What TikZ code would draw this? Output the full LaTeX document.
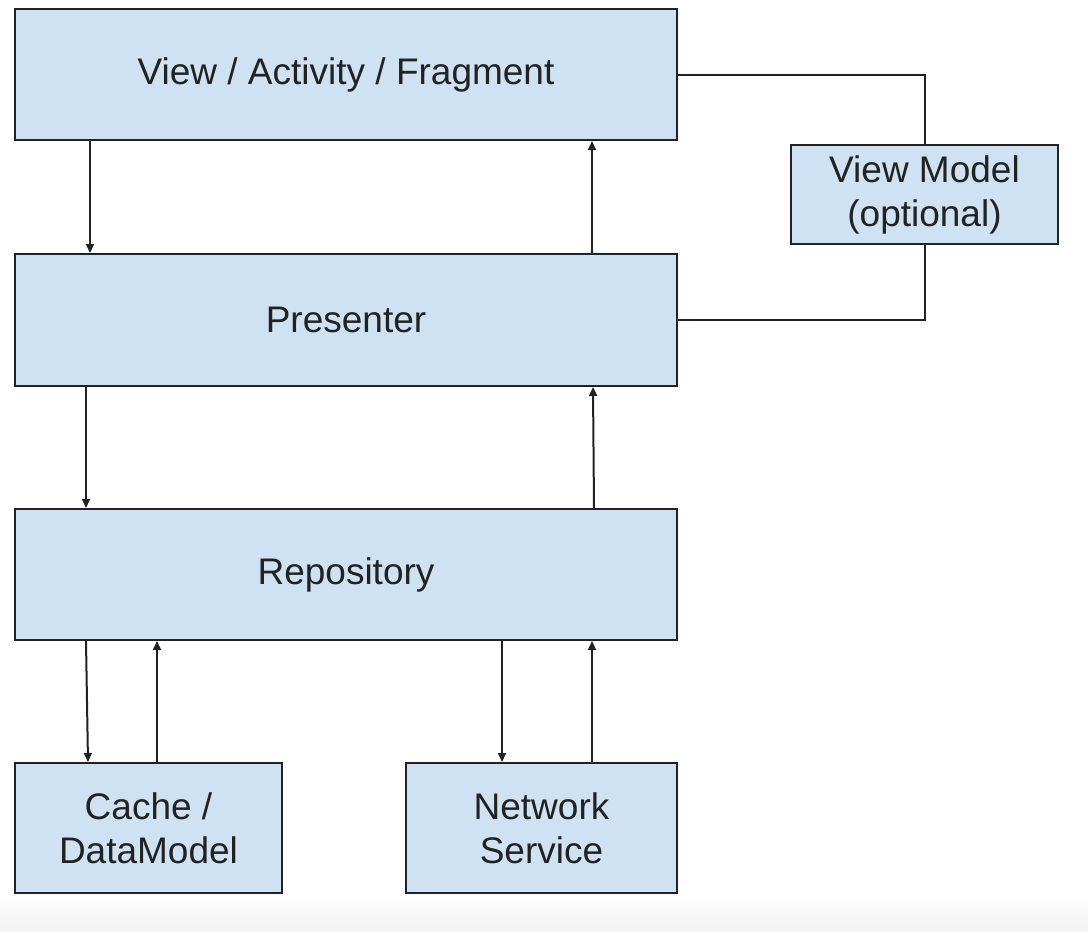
\documentclass[tikz,border=0pt]{standalone}
\usepackage{fontspec}
\setmainfont{Liberation Sans}
\usetikzlibrary{arrows.meta}
\definecolor{boxfill}{HTML}{CFE2F3}
\definecolor{ink}{HTML}{222222}
\begin{document}
\begin{tikzpicture}[x=1pt,y=-1pt,
  box/.style={draw=ink,fill=boxfill,line width=2pt,inner sep=0pt,
    font=\fontsize{37}{44}\selectfont,text=ink,align=center},
  arr/.style={draw=ink,line width=2pt,-{Triangle[length=9pt,width=8pt]}},
  link/.style={draw=ink,line width=2pt}]
\useasboundingbox (0,0) rectangle (1088,932);
\shade[top color=white,bottom color=black!5] (0,893) rectangle (1088,932);
\node[box,minimum width=662pt,minimum height=131pt] (V) at (346,74.5) {View / Activity / Fragment};
\node[box,minimum width=662pt,minimum height=132pt] (P) at (346,320) {Presenter};
\node[box,minimum width=662pt,minimum height=131pt] (R) at (346,574.5) {Repository};
\node[box,minimum width=267pt,minimum height=130pt] (C) at (148.5,828) {Cache /\\DataModel};
\node[box,minimum width=271pt,minimum height=130pt] (N) at (541.5,828) {Network\\Service};
\node[box,minimum width=267pt,minimum height=99pt] (VM) at (924.5,194.5) {View Model\\(optional)};
% arrows
\draw[arr] ([xshift=76pt]V.south west) -- ([xshift=76pt]P.north west);
\draw[arr] ([xshift=578pt]P.north west) -- ([xshift=578pt]V.south west);
\draw[arr] ([xshift=72pt]P.south west) -- ([xshift=72pt]R.north west);
\draw[arr] ([xshift=580pt]R.north west) -- ([xshift=579pt]P.south west);
\draw[arr] ([xshift=72pt]R.south west) -- ([xshift=74pt]C.north west);
\draw[arr] ([xshift=143pt]C.north west) -- ([xshift=143pt]R.south west);
\draw[arr] ([xshift=488pt]R.south west) -- ([xshift=97pt]N.north west);
\draw[arr] ([xshift=187pt]N.north west) -- ([xshift=578pt]R.south west);
% view model links
\draw[link] (V.east) -| (VM.north);
\draw[link] (P.east) -| (VM.south);
\end{tikzpicture}
\end{document}
